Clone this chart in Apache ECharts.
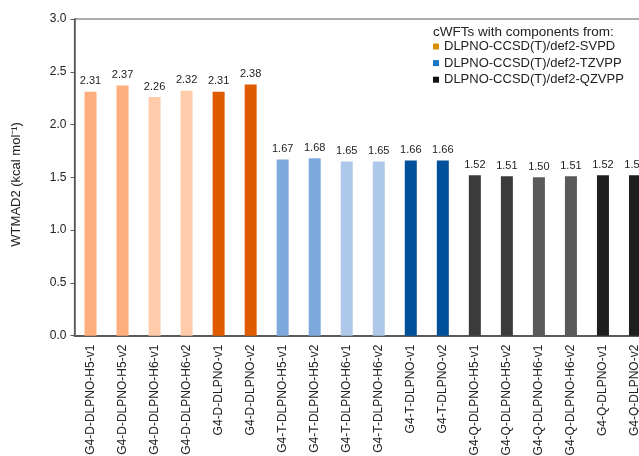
<!DOCTYPE html>
<html>
<head>
<meta charset="utf-8">
<script src="https://cdn.jsdelivr.net/npm/echarts@6/dist/echarts.min.js"></script>
<style>
  html, body { margin: 0; padding: 0; background: #fff; }
  #chart { width: 639px; height: 456px; }
</style>
</head>
<body>
<div id="chart"></div>
<script>
// Composite method names along the x axis
const categories = [
  'G4-D-DLPNO-H5-v1', 'G4-D-DLPNO-H5-v2', 'G4-D-DLPNO-H6-v1', 'G4-D-DLPNO-H6-v2', 'G4-D-DLPNO-v1', 'G4-D-DLPNO-v2',
  'G4-T-DLPNO-H5-v1', 'G4-T-DLPNO-H5-v2', 'G4-T-DLPNO-H6-v1', 'G4-T-DLPNO-H6-v2', 'G4-T-DLPNO-v1', 'G4-T-DLPNO-v2',
  'G4-Q-DLPNO-H5-v1', 'G4-Q-DLPNO-H5-v2', 'G4-Q-DLPNO-H6-v1', 'G4-Q-DLPNO-H6-v2', 'G4-Q-DLPNO-v1', 'G4-Q-DLPNO-v2'
];

// WTMAD2 values (kcal/mol) per basis-set family
const svpdValues  = [2.31, 2.37, 2.26, 2.32, 2.31, 2.38];
const tzvppValues = [1.67, 1.68, 1.65, 1.65, 1.66, 1.66];
const qzvppValues = [1.52, 1.51, 1.50, 1.51, 1.52, 1.52];

const seriesNames = ['DLPNO-CCSD(T)/def2-SVPD', 'DLPNO-CCSD(T)/def2-TZVPP', 'DLPNO-CCSD(T)/def2-QZVPP'];
const legendColors = ['#D8900A', '#1676C4', '#111111'];

// Shades within each family: H5, H5, H6, H6, plain, plain
const svpdShades  = ['#FFAE7E', '#FFAE7E', '#FFCBAA', '#FFCBAA', '#E05A00', '#E05A00'];
const tzvppShades = ['#7EA9DD', '#7EA9DD', '#AEC8E9', '#AEC8E9', '#00509A', '#00509A'];
const qzvppShades = ['#3B3B3B', '#3B3B3B', '#5A5A5A', '#5A5A5A', '#1F1F1F', '#1F1F1F'];

const groups = [
  { values: svpdValues, shades: svpdShades, offset: 0 },
  { values: tzvppValues, shades: tzvppShades, offset: 6 },
  { values: qzvppValues, shades: qzvppShades, offset: 12 }
];

const font = '"Liberation Sans", Arial, sans-serif';

const series = groups.map((g, gi) => {
  const data = categories.map(() => null);
  g.values.forEach((v, i) => {
    data[g.offset + i] = { value: v, itemStyle: { color: g.shades[i] } };
  });
  return {
    name: seriesNames[gi],
    type: 'bar',
    stack: 'all',
    barWidth: 12,
    itemStyle: { color: legendColors[gi] },
    label: {
      show: true,
      position: 'top',
      distance: 5,
      color: '#222',
      fontFamily: font,
      fontSize: 11,
      formatter: p => p.value.toFixed(2)
    },
    data: data
  };
});

const chart = echarts.init(document.getElementById('chart'));
chart.setOption({
  animation: false,
  backgroundColor: '#fff',
  grid: {
    left: 74.5, top: 19, right: -12, bottom: 120.3,
    outerBoundsMode: 'none',
    containLabel: false,
    show: true, borderColor: '#595959', borderWidth: 1.2
  },
  title: {
    text: 'cWFTs with components from:',
    left: 433, top: 25, padding: 0,
    textStyle: { fontFamily: font, fontSize: 13.5, fontWeight: 'normal', color: '#222' }
  },
  legend: {
    orient: 'vertical',
    left: 433, top: 40, padding: 0,
    itemWidth: 6, itemHeight: 6, itemGap: 3.6,
    icon: 'rect',
    textStyle: { fontFamily: font, fontSize: 13, color: '#222' },
    data: seriesNames
  },
  xAxis: {
    type: 'category',
    data: categories,
    axisLine: { lineStyle: { color: '#595959', width: 2 } },
    axisTick: { show: false },
    axisLabel: {
      rotate: 90, interval: 0, margin: 9,
      fontFamily: font, fontSize: 12, color: '#222'
    }
  },
  yAxis: {
    type: 'value',
    min: 0, max: 3, interval: 0.5,
    name: 'WTMAD2 (kcal mol\u207B\u00B9)',
    nameLocation: 'middle',
    nameGap: 52,
    nameTextStyle: { fontFamily: font, fontSize: 13, color: '#222', padding: [0, 14, 0, 0] },
    axisLine: { show: true, lineStyle: { color: '#595959', width: 1.5 } },
    axisTick: { show: true, length: 4, lineStyle: { color: '#595959' } },
    splitLine: { show: false },
    axisLabel: {
      margin: 8,
      fontFamily: font, fontSize: 12, color: '#222',
      formatter: v => v.toFixed(1)
    }
  },
  series: series
});
</script>
</body>
</html>
